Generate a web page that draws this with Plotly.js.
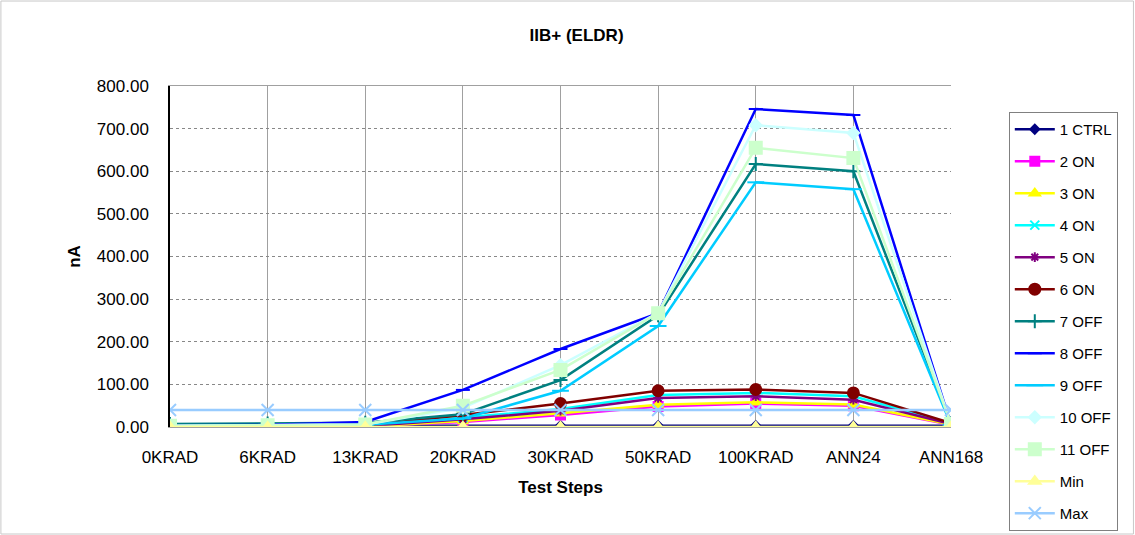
<!DOCTYPE html>
<html><head><meta charset="utf-8">
<script src="https://cdn.plot.ly/plotly-3.0.1.min.js"></script>
<style>html,body{margin:0;padding:0;background:#fff}#chart{width:1135px;height:535px}</style>
</head><body><div id="chart"></div>
<script>
const categories = ['0KRAD','6KRAD','13KRAD','20KRAD','30KRAD','50KRAD','100KRAD','ANN24','ANN168'];
const seriesNames = ['1 CTRL','2 ON','3 ON','4 ON','5 ON','6 ON','7 OFF','8 OFF','9 OFF','10 OFF','11 OFF','Min','Max'];
const ctrl1 = [3,3,3,3,3,3,3,3,3];
const on2 = [2,2,2,12,28,48,55,50,5];
const on3 = [1,1,1,14,32,52,58,53,6];
const on4 = [2,2,2,22,42,75,80,72,8];
const on5 = [2,2,2,18,38,68,72,64,7];
const on6 = [3,3,3,28,55,85,88,80,9];
const off7 = [7,8,10,30,110,262,617,600,8];
const off8 = [4,5,12,87,183,267,746,732,6];
const off9 = [2,3,5,20,85,237,574,558,5];
const off10 = [3,4,6,45,145,268,708,690,7];
const off11 = [3,4,6,50,134,267,655,631,7];
const minS = [0,0,0,0,0,0,0,0,0];
const maxS = [40,40,40,40,40,40,40,40,40];
const seriesValues = [ctrl1,on2,on3,on4,on5,on6,off7,off8,off9,off10,off11,minS,maxS];
const yTickVals = [0,100,200,300,400,500,600,700,800];
const yTickText = ['0.00','100.00','200.00','300.00','400.00','500.00','600.00','700.00','800.00'];

const colors = ['#000080','#FF00FF','#FFFF00','#00FFFF','#800080','#800000','#008080','#0000FF','#00CCFF','#CCFFFF','#CCFFCC','#FFFF99','#99CCFF'];
const symbols = ['diamond','square','triangle-up','x-thin-open','asterisk-open','circle','cross-thin-open','line-ew-open','line-ew-open','diamond','square','triangle-up','x-thin-open'];
const sizes = [7,9,9,9,8,11,10,10,12,9,12,10,12];

const traces = seriesNames.map((n,i)=>({
  type:'scatter', mode:'lines+markers', name:n, x:categories, y:seriesValues[i],
  legendgroup:'g'+i,
  line:{color:colors[i], width:2.5},
  marker:{color:colors[i], symbol:symbols[i], size:sizes[i], line:{color:colors[i], width:2}}
}));

const layout = {
  width:1135, height:535,
  margin:{l:170, r:184, t:86, b:108, autoexpand:false},
  paper_bgcolor:'#fff', plot_bgcolor:'#fff',
  font:{family:'Liberation Sans, Arial, sans-serif', color:'#000'},
  title:{text:'<b>IIB+ (ELDR)</b>', font:{size:17}, x:0.508, xanchor:'center', y:0.935, yanchor:'middle'},
  xaxis:{type:'category', categoryorder:'array', categoryarray:categories, range:[0,8],
    showgrid:true, gridcolor:'#a0a0a0', gridwidth:1,
    showline:true, linecolor:'#a0a0a0', linewidth:1, mirror:true,
    ticks:'', tickfont:{size:17}, ticklabelstandoff:15, zeroline:false, automargin:false,
    title:{text:'<b>Test Steps</b>', font:{size:17}, standoff:14}},
  yaxis:{range:[0,800], tickvals:yTickVals, ticktext:yTickText,
    showgrid:true, gridcolor:'#888888', griddash:'dot', gridwidth:1, automargin:false,
    showline:true, linecolor:'#000', linewidth:1.5, ticks:'', tickfont:{size:17}, ticklabelstandoff:16, zeroline:false,
    title:{text:'<b>nA</b>', font:{size:17}, standoff:12}},
  legend:{x:1.074, xanchor:'left', y:0.924, yanchor:'top', bgcolor:'#fff', maxheight:600,
    bordercolor:'#808080', borderwidth:1, font:{size:15}, tracegroupgap:9.5, itemwidth:40},
  showlegend:true,
  shapes:[{type:'rect', xref:'paper', yref:'paper', x0:-0.2165, x1:1.2336, y0:-0.3138, y1:1.2492, line:{color:'#c8c8c8', width:1}}]
};
Plotly.newPlot('chart', traces, layout, {displayModeBar:false});
</script></body></html>
